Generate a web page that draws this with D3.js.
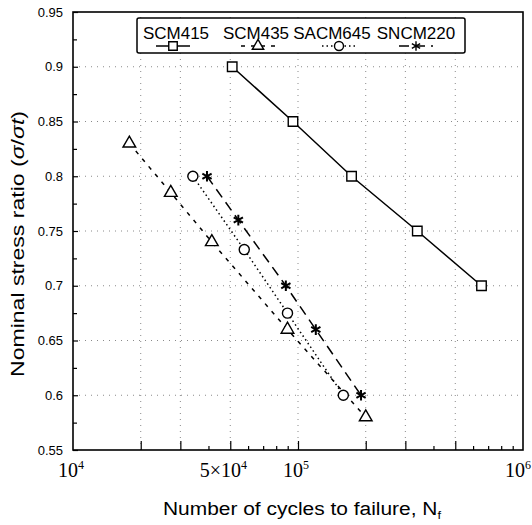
<!DOCTYPE html>
<html>
<head>
<meta charset="utf-8">
<script src="https://cdn.jsdelivr.net/npm/d3@7"></script>
<style>
  body { margin: 0; background: #fff; }
  svg { display: block; }
</style>
</head>
<body>
<script>
// chart data
const seriesNames = ['SCM415', 'SCM435', 'SACM645', 'SNCM220'];
const scm415Cycles = [51000, 95000, 173000, 339000, 654000];
const scm415Ratio = [0.9, 0.85, 0.8, 0.75, 0.7];
const scm435Cycles = [17800, 27200, 41400, 89800, 200000];
const scm435Ratio = [0.83, 0.785, 0.74, 0.66, 0.58];
const sacm645Cycles = [34100, 57700, 89800, 159000];
const sacm645Ratio = [0.8, 0.733, 0.675, 0.6];
const sncm220Cycles = [39400, 54300, 88300, 120000, 190600];
const sncm220Ratio = [0.8, 0.76, 0.7, 0.66, 0.6];

const yTicks = [0.55, 0.6, 0.65, 0.7, 0.75, 0.8, 0.85, 0.9, 0.95];
const yTickLabels = ['0.55', '0.6', '0.65', '0.7', '0.75', '0.8', '0.85', '0.9', '0.95'];
const xLabelTicks = [1e4, 5e4, 1e5, 1e6];
const xLabelBase = ['10', '5\u00d710', '10', '10'];
const xLabelExp = ['4', '4', '5', '6'];
const xMajorTicks = [2e4, 3e4, 5e4, 1e5, 2e5, 3e5, 5e5];
const xMinorTicks = [4e4, 6e4, 7e4, 8e4, 9e4, 4e5, 6e5, 7e5, 8e5, 9e5];

const W = 532, H = 525;
const margin = { top: 12, right: 9, bottom: 75, left: 73 };
const sans = 'Liberation Sans, Arial, sans-serif';

const x = d3.scaleLog().domain([1e4, 1e6]).range([margin.left, W - margin.right]);
const y = d3.scaleLinear().domain([0.55, 0.95]).range([H - margin.bottom, margin.top]);

const svg = d3.select('body').append('svg').attr('width', W).attr('height', H);

// dotted grid
const grid = svg.append('g').attr('stroke', '#8a8a8a').attr('stroke-width', 1)
  .attr('stroke-dasharray', '1,5');
grid.selectAll('line.h').data(yTicks.slice(1, -1)).enter().append('line')
  .attr('x1', x.range()[0]).attr('x2', x.range()[1])
  .attr('y1', d => y(d)).attr('y2', d => y(d));
grid.selectAll('line.v').data(xMajorTicks).enter().append('line')
  .attr('y1', y.range()[0]).attr('y2', y.range()[1])
  .attr('x1', d => x(d)).attr('x2', d => x(d));

// axes (ticks inward)
const yAxis = d3.axisLeft(y).tickValues(yTicks).tickSize(-5).tickPadding(10)
  .tickFormat((d, i) => yTickLabels[i]);
const gy = svg.append('g').attr('transform', `translate(${margin.left},0)`).call(yAxis);
gy.select('.domain').remove();
gy.selectAll('text').style('font-family', sans).style('font-size', '13px').attr('fill', '#000');

const yMinor = yTicks.slice(0, -1).map(d => d + 0.025);
const yMinorAxis = d3.axisLeft(y).tickValues(yMinor).tickSize(-4).tickFormat('');
const gy2 = svg.append('g').attr('transform', `translate(${margin.left},0)`).call(yMinorAxis);
gy2.select('.domain').remove();

const xMaj = d3.axisBottom(x).tickValues(xMajorTicks).tickSize(-9).tickFormat('');
const gx = svg.append('g').attr('transform', `translate(0,${y.range()[0]})`).call(xMaj);
gx.select('.domain').remove();
const xMin = d3.axisBottom(x).tickValues(xMinorTicks).tickSize(-4).tickFormat('');
const gx2 = svg.append('g').attr('transform', `translate(0,${y.range()[0]})`).call(xMin);
gx2.select('.domain').remove();
svg.selectAll('.tick line').attr('stroke', '#000').attr('stroke-width', 1.2);

// x tick labels with superscripts; the "5x10" label sits a little left of its tick,
// the last one is kept inside the page edge
xLabelTicks.forEach((v, i) => {
  const last = i === xLabelTicks.length - 1;
  const shift = xLabelBase[i].length > 2 ? -7 : -2;
  const t = svg.append('text')
    .attr('x', last ? W - 1 : x(v) + shift).attr('y', y.range()[0] + 27)
    .attr('text-anchor', last ? 'end' : 'middle')
    .style('font-family', 'Liberation Serif, Times New Roman, serif')
    .style('font-size', '20px').attr('fill', '#000');
  t.append('tspan').text(xLabelBase[i]);
  t.append('tspan').attr('dy', -8).style('font-size', '12px').text(xLabelExp[i]);
});

// frame
svg.append('rect')
  .attr('x', x.range()[0]).attr('y', y.range()[1])
  .attr('width', x.range()[1] - x.range()[0]).attr('height', y.range()[0] - y.range()[1])
  .attr('fill', 'none').attr('stroke', '#000').attr('stroke-width', 1.6);

// axis titles
svg.append('text')
  .attr('x', 302).attr('y', 515).attr('text-anchor', 'middle')
  .style('font-family', sans).style('font-size', '18px')
  .attr('textLength', 278).attr('lengthAdjust', 'spacingAndGlyphs')
  .call(t => {
    t.append('tspan').text('Number of cycles to failure,  N');
    t.append('tspan').attr('dy', 4).style('font-size', '11px').text('f');
  });

svg.append('text')
  .attr('transform', 'translate(24,244) rotate(-90)').attr('text-anchor', 'middle')
  .style('font-family', sans).style('font-size', '18px')
  .attr('textLength', 266).attr('lengthAdjust', 'spacingAndGlyphs')
  .call(t => {
    t.append('tspan').text('Nominal stress ratio (');
    t.append('tspan').attr('font-style', 'italic').text('\u03c3');
    t.append('tspan').text('/');
    t.append('tspan').attr('font-style', 'italic').text('\u03c3t');
    t.append('tspan').text(')');
  });

// series
const series = [
  { name: seriesNames[0], cycles: scm415Cycles, ratio: scm415Ratio, dash: null, symbol: d3.symbolSquare, size: 90 },
  { name: seriesNames[1], cycles: scm435Cycles, ratio: scm435Ratio, dash: '4,6', symbol: d3.symbolTriangle, size: 70 },
  { name: seriesNames[2], cycles: sacm645Cycles, ratio: sacm645Ratio, dash: '1.5,3', symbol: d3.symbolCircle, size: 80 },
  { name: seriesNames[3], cycles: sncm220Cycles, ratio: sncm220Ratio, dash: '10,6', symbol: d3.symbolAsterisk, size: 80 }
];

const line = d3.line().x(d => x(d[0])).y(d => y(d[1]));

series.forEach(s => {
  const pts = s.cycles.map((c, i) => [c, s.ratio[i]]);
  svg.append('path').datum(pts).attr('d', line)
    .attr('fill', 'none').attr('stroke', '#000').attr('stroke-width', 1.5)
    .attr('stroke-dasharray', s.dash);
  svg.append('g').selectAll('path').data(pts).enter().append('path')
    .attr('transform', d => `translate(${x(d[0])},${y(d[1])})`)
    .attr('d', d3.symbol().type(s.symbol).size(s.size))
    .attr('fill', s.symbol === d3.symbolAsterisk ? 'none' : '#fff')
    .attr('stroke', '#000').attr('stroke-width', s.symbol === d3.symbolAsterisk ? 2 : 1.4);
});

// legend
const lg = svg.append('g');
lg.append('rect').attr('x', 137).attr('y', 18).attr('width', 328).attr('height', 35).attr('rx', 2)
  .attr('fill', '#fff').attr('stroke', '#000').attr('stroke-width', 1.5);
const legendText = [176, 256, 332, 416];
const legendSym = [173, 258, 339, 416];
series.forEach((s, i) => {
  lg.append('text').attr('x', legendText[i]).attr('y', 39).attr('text-anchor', 'middle')
    .style('font-family', sans).style('font-size', '17px')
    .text(s.name);
  lg.append('line').attr('x1', legendSym[i] - 17).attr('x2', legendSym[i] + 17)
    .attr('y1', 46).attr('y2', 46).attr('stroke', '#000').attr('stroke-width', 1.3)
    .attr('stroke-dasharray', s.dash);
  lg.append('path').attr('transform', `translate(${legendSym[i]},46)`)
    .attr('d', d3.symbol().type(s.symbol).size(s.size * 0.8))
    .attr('fill', s.symbol === d3.symbolAsterisk ? 'none' : '#fff')
    .attr('stroke', '#000').attr('stroke-width', 1.4);
});
</script>
</body>
</html>
